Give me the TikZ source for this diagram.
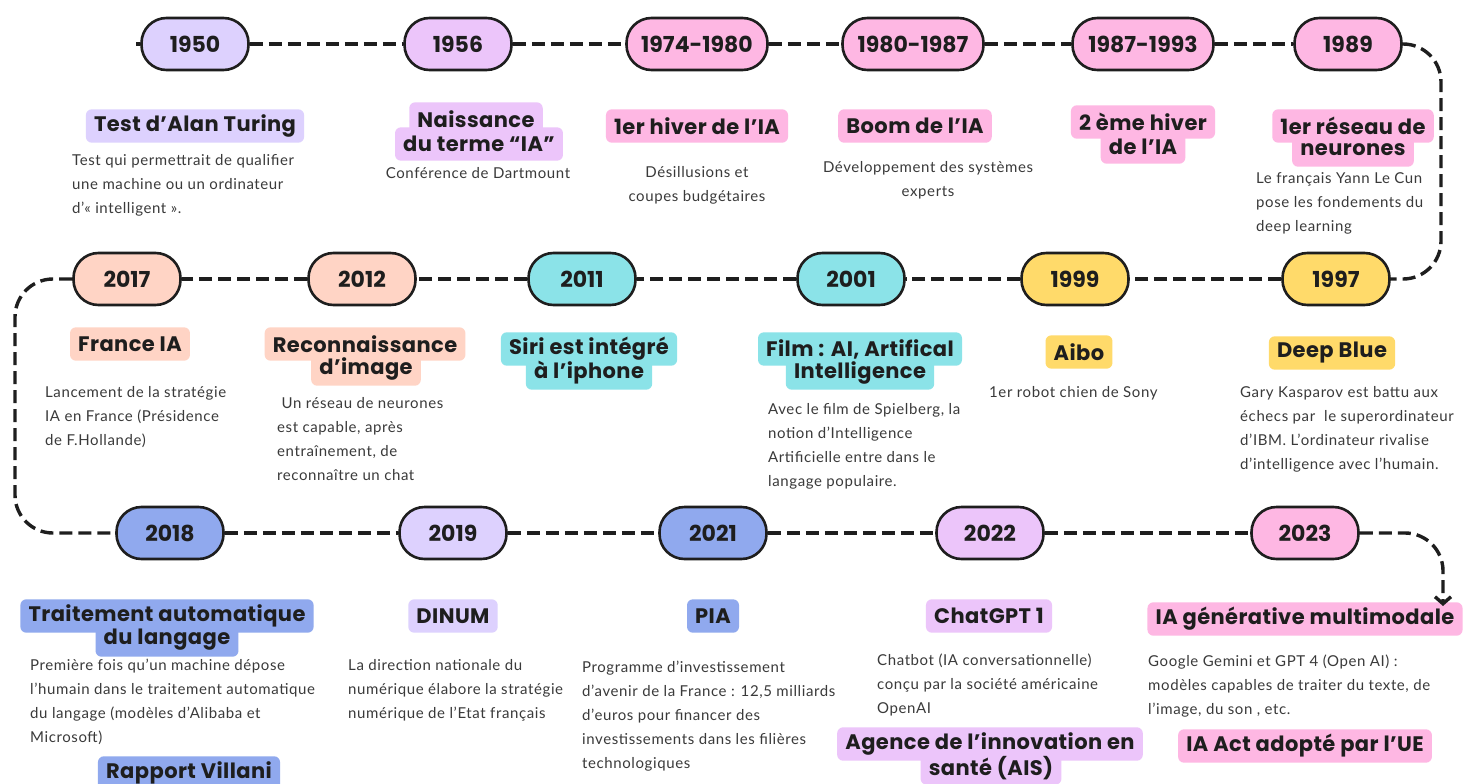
\documentclass[tikz,border=0pt]{standalone}
\usepackage{fontspec}
\setmainfont{Lato}[LetterSpace=4]
\newfontfamily\titlefont{Poppins}[LetterSpace=2]
\newfontfamily\yearfont{Poppins}
\usetikzlibrary{arrows.meta}
\pgfdeclarelayer{back}
\pgfdeclarelayer{bg}
\pgfsetlayers{back,bg,main}
\definecolor{lav}{HTML}{DDD1FE}
\definecolor{mauve}{HTML}{ECC5FA}
\definecolor{pinkc}{HTML}{FEB7E3}
\definecolor{peach}{HTML}{FFD4C5}
\definecolor{cyanc}{HTML}{8BE3E8}
\definecolor{yell}{HTML}{FFDA6A}
\definecolor{bluec}{HTML}{90A9EE}
\definecolor{ink}{HTML}{1E1E1E}
\definecolor{bodyc}{HTML}{3A3A3A}
\tikzset{
 pill/.style={draw=ink, line width=2.6pt, rounded corners=25pt, minimum height=52pt, minimum width=107pt, inner xsep=10pt, font=\yearfont\bfseries\fontsize{22}{26}\selectfont, text=ink},
 widepill/.style={pill, minimum width=141pt},
 tag/.style={minimum height=33pt, inner xsep=8pt, inner ysep=0pt, font=\titlefont\bfseries\fontsize{21}{24}\selectfont, text=ink,
   append after command={\pgfextra{\begin{pgfonlayer}{bg}\fill[#1, rounded corners=6pt] (\tikzlastnode.south west) rectangle (\tikzlastnode.north east);\end{pgfonlayer}}}},
 desc/.style={inner sep=0pt, font=\fontsize{15}{24}\selectfont, text=bodyc},
 dl/.style={desc, align=left, anchor=north west},
 dc/.style={desc, align=center, anchor=north},
 tl/.style={ink, line width=3.4pt, dash pattern=on 13pt off 6pt},
}
\begin{document}
\begin{tikzpicture}[x=1pt,y=-1pt]
\begin{pgfonlayer}{back}
\fill[white] (0,0) rectangle (1464,784);
\end{pgfonlayer}
\useasboundingbox (0,0) rectangle (1464,784);

% ---------- row 1 ----------
\coordinate (start) at (136,44);
\node[pill, fill=lav] (p1950) at (195,44) {1950};
\node[pill, fill=mauve] (p1956) at (458,44) {1956};
\node[widepill, fill=pinkc] (p1974) at (697,44) {1974-1980};
\node[widepill, fill=pinkc] (p1980) at (913,44) {1980-1987};
\node[widepill, fill=pinkc] (p1987) at (1143,44) {1987-1993};
\node[pill, fill=pinkc] (p1989) at (1348,44) {1989};

% ---------- row 2 ----------
\node[pill, fill=peach] (p2017) at (127,279) {2017};
\node[pill, fill=peach] (p2012) at (362,279) {2012};
\node[pill, fill=cyanc] (p2011) at (582,279) {2011};
\node[pill, fill=cyanc] (p2001) at (851,279) {2001};
\node[pill, fill=yell] (p1999) at (1075,279) {1999};
\node[pill, fill=yell] (p1997) at (1336,279) {1997};

% ---------- row 3 ----------
\node[pill, fill=bluec] (p2018) at (170,533) {2018};
\node[pill, fill=lav] (p2019) at (453,533) {2019};
\node[pill, fill=bluec] (p2021) at (713,533) {2021};
\node[pill, fill=mauve] (p2022) at (990,533) {2022};
\node[pill, fill=pinkc] (p2023) at (1305,533) {2023};

% ---------- connectors ----------
\coordinate (cR1) at (1441,44);
\coordinate (cR2) at (1441,279);
\coordinate (cL1) at (15,279);
\coordinate (cL2) at (15,533);
\coordinate (cB1) at (1443,533);
\coordinate (arrowEnd) at (1443,606);
\draw[tl] (start) -- (p1950.west);
\draw[tl] (p1950.east) -- (p1956.west);
\draw[tl] (p1956.east) -- (p1974.west);
\draw[tl] (p1974.east) -- (p1980.west);
\draw[tl] (p1980.east) -- (p1987.west);
\draw[tl] (p1987.east) -- (p1989.west);
\draw[tl, rounded corners=38pt] (p1989.east) -- (cR1) -- (cR2) -- (p1997.east);
\draw[tl] (p1997.west) -- (p1999.east);
\draw[tl] (p1999.west) -- (p2001.east);
\draw[tl] (p2001.west) -- (p2011.east);
\draw[tl] (p2011.west) -- (p2012.east);
\draw[tl] (p2012.west) -- (p2017.east);
\draw[tl, rounded corners=38pt] (p2017.west) -- (cL1) -- (cL2) -- (p2018.west);
\draw[tl] (p2018.east) -- (p2019.west);
\draw[tl] (p2019.east) -- (p2021.west);
\draw[tl] (p2021.east) -- (p2022.west);
\draw[tl] (p2022.east) -- (p2023.west);
\draw[tl, rounded corners=38pt, -{Straight Barb[length=7pt,width=16pt]}] (p2023.east) -- (cB1) -- (arrowEnd);

% ---------- row 1 labels ----------
\node[tag=lav] (tTuring) at (195,126) {Test d’Alan Turing};
\node[tag=mauve] (tNais1) at (476,119) {Naissance};
\node[tag=mauve] (tNais2) at (479,144) {du terme “IA”};
\node[tag=pinkc] (tHiver1) at (697,126) {1er hiver de l’IA};
\node[tag=pinkc] (tBoom) at (915,126) {Boom de l’IA};
\node[tag=pinkc] (tHiv2a) at (1143,122) {2 ème hiver};
\node[tag=pinkc] (tHiv2b) at (1143,147) {de l’IA};
\node[tag=pinkc] (tRes1) at (1353,126) {1er réseau de};
\node[tag=pinkc] (tRes2) at (1353,150) {neurones};

\node[dl] (dTuring) at (72,154) {Test qui permettrait de qualifier\\une machine ou un ordinateur\\d’« intelligent ».};
\node[dc] (dNais) at (478,167) {Conférence de Dartmount};
\node[dc] (dHiver1) at (697,166) {Désillusions et\\coupes budgétaires};
\node[dc] (dBoom) at (928,161) {Développement des systèmes\\experts};
\node[dl] (dRes) at (1256,172) {Le français Yann Le Cun\\pose les fondements du\\deep learning};

% ---------- row 2 labels ----------
\node[tag=peach] (tFrance) at (130,344) {France IA};
\node[tag=peach] (tReco1) at (365,344) {Reconnaissance};
\node[tag=peach] (tReco2) at (366,369) {d’image};
\node[tag=cyanc] (tSiri1) at (589,349) {Siri est intégré};
\node[tag=cyanc] (tSiri2) at (589,373) {à l’iphone};
\node[tag=cyanc] (tFilm1) at (860,349) {Film : AI, Artifical};
\node[tag=cyanc] (tFilm2) at (860,373) {Intelligence};
\node[tag=yell] (tAibo) at (1079,352) {Aibo};
\node[tag=yell] (tDeep) at (1332,353) {Deep Blue};

\node[dl] (dFrance) at (45,386) {Lancement de la stratégie\\IA en France (Présidence\\de F.Hollande)};
\node[dl] (dReco) at (277,397) {~Un réseau de neurones\\est capable, après\\entraînement, de\\reconnaître un chat};
\node[dl] (dFilm) at (768,403) {Avec le film de Spielberg, la\\notion d’Intelligence\\Artificielle entre dans le\\langage populaire.};
\node[dl] (dAibo) at (989,386) {1er robot chien de Sony};
\node[dl] (dDeep) at (1240,386) {Gary Kasparov est battu aux\\échecs par~ le superordinateur\\d’IBM. L’ordinateur rivalise\\d’intelligence avec l’humain.};

% ---------- row 3 labels ----------
\node[tag=bluec] (tTal1) at (167,616) {Traitement automatique};
\node[tag=bluec] (tTal2) at (167,640) {du langage};
\node[tag=bluec] (tVillani) at (189,773) {Rapport Villani};
\node[tag=lav] (tDinum) at (453,616) {DINUM};
\node[tag=bluec] (tPia) at (713,616) {PIA};
\node[tag=mauve] (tGpt) at (989,616) {ChatGPT 1};
\node[tag=mauve] (tAis1) at (990,744) {Agence de l’innovation en};
\node[tag=mauve] (tAis2) at (991,768) {santé (AIS)};
\node[tag=pinkc] (tGen) at (1305,619) {IA générative multimodale};
\node[tag=pinkc] (tAct) at (1305,746) {IA Act adopté par l’UE};

\node[dl] (dTal) at (30,659) {Première fois qu’un machine dépose\\l’humain dans le traitement automatique\\du langage (modèles d’Alibaba et\\Microsoft)};
\node[dl] (dDinum) at (348,659) {La direction nationale du\\numérique élabore la stratégie\\numérique de l’Etat français};
\node[dl] (dPia) at (582,661) {Programme d’investissement\\d’avenir de la France : 12,5 milliards\\d’euros pour financer des\\investissements dans les filières\\technologiques};
\node[dl] (dGpt) at (877,654) {Chatbot (IA conversationnelle)\\conçu par la société américaine\\OpenAI};
\node[dl] (dGen) at (1148,655) {Google Gemini et GPT 4 (Open AI) :\\modèles capables de traiter du texte, de\\l’image, du son , etc.};
\end{tikzpicture}
\end{document}
